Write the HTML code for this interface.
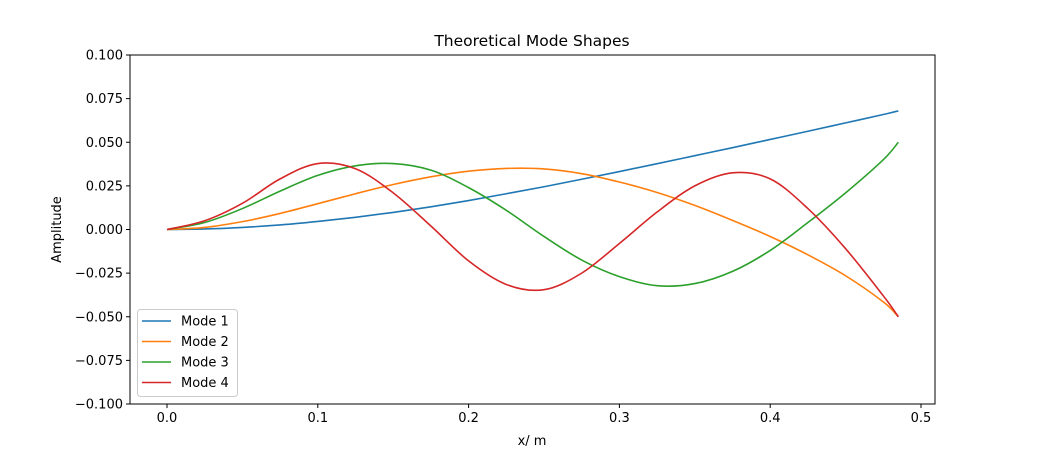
<!DOCTYPE html>
<html><head><meta charset="utf-8"><style>
body{margin:0;background:#fff;}
svg text{font-family:"DejaVu Sans","Liberation Sans",sans-serif;fill:#000;}
</style></head><body>
<svg id="chart" width="1039" height="454" viewBox="0 0 1039 454" xmlns="http://www.w3.org/2000/svg"></svg>
<script>
const xs = [0,0.025,0.05,0.075,0.1,0.125,0.15,0.175,0.2,0.225,0.25,0.275,0.3,0.325,0.35,0.375,0.4,0.425,0.45,0.475,0.485];
const mode1 = [0,0.0003,0.0012,0.0026,0.0046,0.0070,0.0098,0.0130,0.0166,0.0205,0.0245,0.0288,0.0332,0.0377,0.0423,0.0469,0.0516,0.0563,0.0611,0.0659,0.068];
const mode2 = [0,0.0012,0.0045,0.0092,0.0148,0.0205,0.0258,0.0302,0.0334,0.0350,0.0347,0.0320,0.0272,0.0212,0.0138,0.0052,-0.0040,-0.0145,-0.0265,-0.0415,-0.050];
const mode3 = [0,0.004,0.012,0.022,0.031,0.0365,0.0378,0.034,0.024,0.011,-0.004,-0.0175,-0.027,-0.0322,-0.031,-0.024,-0.012,0.004,0.021,0.040,0.050];
const mode4 = [0,0.005,0.015,0.029,0.0378,0.0348,0.021,0.002,-0.018,-0.0315,-0.0345,-0.025,-0.008,0.010,0.025,0.0325,0.029,0.012,-0.011,-0.038,-0.050];
const seriesNames = ["Mode 1","Mode 2","Mode 3","Mode 4"];
const colors = ["#1f77b4","#ff7f0e","#2ca02c","#d62728"];
const xTicks = [0,0.1,0.2,0.3,0.4,0.5];
const xTickLabels = ["0.0","0.1","0.2","0.3","0.4","0.5"];
const yTicks = [-0.1,-0.075,-0.05,-0.025,0,0.025,0.05,0.075,0.1];
const yTickLabels = ["−0.100","−0.075","−0.050","−0.025","0.000","0.025","0.050","0.075","0.100"];

const L=130,R=935,T=55,B=404;
const X = v => 167 + v*1508;
const Y = v => 229.5 - v*1745;
const svg = document.getElementById('chart');
const NS='http://www.w3.org/2000/svg';
function mk(tag, attrs, parent){const e=document.createElementNS(NS,tag);for(const k in attrs)e.setAttribute(k,attrs[k]);(parent||svg).appendChild(e);return e;}

const frame = mk('rect',{x:L,y:T,width:R-L,height:B-T,fill:'none',stroke:'#000','stroke-width':1});



xTicks.forEach((v,i)=>{
  const t=mk('line',{x1:X(v),x2:X(v),y1:B,y2:B+4,stroke:'#000'});
  
  
  const tx=mk('text',{x:X(v),y:B+18,'text-anchor':'middle','font-size':13});
  tx.textContent=xTickLabels[i];
  
  
});
yTicks.forEach((v,i)=>{
  const t=mk('line',{x1:L-4,x2:L,y1:Y(v),y2:Y(v),stroke:'#000'});
  
  
  const tx=mk('text',{x:L-7,y:Y(v)+4.5,'text-anchor':'end','font-size':13});
  tx.textContent=yTickLabels[i];
  
  
});

function smooth(xv,yv){
  const p=xv.map((x,i)=>[X(x),Y(yv[i])]);
  let d='M'+p[0][0]+','+p[0][1];
  for(let i=0;i<p.length-1;i++){
    const p0=p[Math.max(0,i-1)],p1=p[i],p2=p[i+1],p3=p[Math.min(p.length-1,i+2)];
    const c1=[p1[0]+(p2[0]-p0[0])/6,p1[1]+(p2[1]-p0[1])/6];
    const c2=[p2[0]-(p3[0]-p1[0])/6,p2[1]-(p3[1]-p1[1])/6];
    d+=`C${c1[0]},${c1[1]} ${c2[0]},${c2[1]} ${p2[0]},${p2[1]}`;
  }
  return d;
}
[mode1,mode2,mode3,mode4].forEach((s,i)=>{
  const path=mk('path',{d:smooth(xs,s),fill:'none',stroke:colors[i],'stroke-width':1.6});
  
  
});

const title=mk('text',{x:532,y:46,'text-anchor':'middle','font-size':15.5});
title.textContent='Theoretical Mode Shapes';


const xl=mk('text',{x:532,y:445,'text-anchor':'middle','font-size':13});
xl.textContent='x/ m';


const yl=mk('text',{x:61,y:229.5,'text-anchor':'middle','font-size':13,transform:'rotate(-90 61 229.5)'});
yl.textContent='Amplitude';



const lg=mk('g',{});


mk('rect',{x:137.5,y:309.5,width:100,height:87,rx:3,fill:'#fff','fill-opacity':0.8,stroke:'#ccc'},lg);
seriesNames.forEach((n,i)=>{
  const y=321+i*20.5;
  const ln=mk('line',{x1:142,x2:171,y1:y,y2:y,stroke:colors[i],'stroke-width':1.6},lg);
  
  
  const t=mk('text',{x:181,y:y+4.5,'font-size':13},lg);
  t.textContent=n;
  
  
});
</script>
</body></html>
